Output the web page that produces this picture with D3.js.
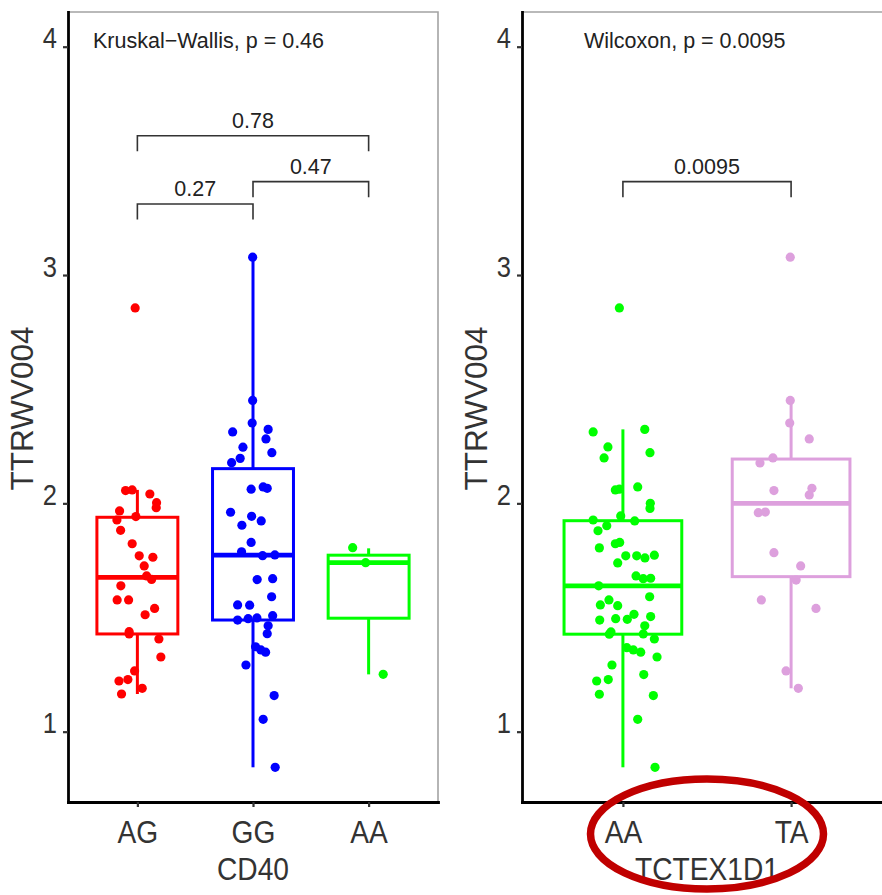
<!DOCTYPE html>
<html>
<head>
<meta charset="utf-8">
<script src="https://cdn.jsdelivr.net/npm/d3@7"></script>
<style>
  body { margin: 0; background: #fff; }
  svg { display: block; }
</style>
</head>
<body>
<div id="chart"></div>
<script>
// ---- data ----
// CD40 genotypes
const cd40Groups = ["AG", "GG", "AA"];
const cd40Colors = ["#FF0000", "#0000FF", "#00FF00"];
const agValues = [2.856, 2.056, 2.059, 2.041, 2.003, 1.981, 1.967, 1.927, 1.942, 1.882,
  1.823, 1.770, 1.764, 1.726, 1.682, 1.667, 1.639, 1.577, 1.577, 1.540,
  1.512, 1.438, 1.428, 1.406, 1.327, 1.266, 1.222, 1.228, 1.190, 1.165];
const agJitter = [-0.019, -0.102, -0.045, 0.108, 0.166, 0.163, -0.154, -0.177, -0.013, -0.145,
  -0.045, 0.016, 0.134, 0.059, 0.080, 0.123, -0.143, -0.175, -0.076, 0.149,
  0.067, -0.071, -0.071, 0.186, 0.203, -0.024, -0.159, -0.082, 0.042, -0.137];
const ggValues = [3.078, 2.451, 2.352, 2.313, 2.324, 2.282, 2.246, 2.222, 2.197, 2.178,
  2.062, 2.072, 2.066, 1.961, 1.943, 1.923, 1.904, 1.829, 1.788, 1.771,
  1.774, 1.666, 1.670, 1.591, 1.555, 1.554, 1.489, 1.495, 1.498, 1.508,
  1.464, 1.429, 1.372, 1.358, 1.348, 1.292, 1.158, 1.054, 0.844];
const ggJitter = [-0.003, -0.003, -0.007, -0.176, 0.131, 0.112, -0.087, 0.163, -0.111, -0.185,
  -0.016, 0.088, 0.123, -0.194, -0.012, 0.071, -0.096, -0.016, -0.099, 0.083,
  0.189, 0.036, 0.170, 0.161, -0.133, -0.029, -0.133, -0.042, 0.034, 0.170,
  0.131, 0.123, 0.022, 0.068, 0.109, -0.061, 0.183, 0.088, 0.192];
const aaCd40Values = [1.806, 1.740, 1.251];
const aaCd40Jitter = [-0.138, -0.026, 0.126];
// box stats: [lower whisker, Q1, median, Q3, upper whisker]
const cd40Boxes = [
  [1.165, 1.428, 1.676, 1.939, 2.059],
  [0.844, 1.489, 1.773, 2.152, 3.078],
  [1.251, 1.497, 1.740, 1.773, 1.803]
];
const cd40Tests = [["AG", "GG", 3.311, "0.27"], ["GG", "AA", 3.409, "0.47"], ["AG", "AA", 3.610, "0.78"]];

// TCTEX1D1 genotypes
const tctexGroups = ["AA", "TA"];
const tctexColors = ["#00FF00", "#DDA0DD"];
const aaValues = [2.856, 2.313, 2.324, 2.247, 2.222, 2.199, 2.059, 2.062, 2.072, 2.000,
  1.978, 1.945, 1.927, 1.923, 1.902, 1.880, 1.805, 1.823, 1.829, 1.770,
  1.770, 1.761, 1.773, 1.739, 1.682, 1.670, 1.672, 1.639, 1.591, 1.577,
  1.555, 1.552, 1.514, 1.492, 1.495, 1.489, 1.504, 1.464, 1.437, 1.427,
  1.428, 1.406, 1.368, 1.358, 1.348, 1.327, 1.292, 1.222, 1.228, 1.250,
  1.164, 1.158, 1.054, 0.844];
const aaJitter = [-0.021, -0.177, 0.130, -0.089, 0.161, -0.112, -0.045, -0.021, 0.088, 0.163,
  0.161, -0.013, -0.177, 0.070, -0.096, -0.148, -0.140, -0.045, -0.019, 0.017,
  0.082, 0.131, 0.187, -0.031, 0.078, 0.121, 0.165, -0.144, 0.159, -0.083,
  -0.134, -0.031, 0.066, 0.026, -0.043, -0.138, 0.165, 0.130, -0.071, -0.081,
  0.121, 0.187, 0.023, 0.062, 0.106, 0.203, -0.065, -0.156, -0.087, 0.124,
  -0.140, 0.181, 0.088, 0.191];
const taValues = [3.078, 2.451, 2.352, 2.282, 2.199, 2.177, 2.056, 2.066, 2.037, 1.959,
  1.962, 1.784, 1.726, 1.664, 1.577, 1.540, 1.266, 1.190];
const taJitter = [-0.005, -0.005, -0.008, 0.108, -0.108, -0.185, -0.102, 0.124, 0.108, -0.195,
  -0.153, -0.102, 0.057, 0.030, -0.177, 0.148, -0.030, 0.043];
const tctexBoxes = [
  [0.844, 1.427, 1.639, 1.924, 2.324],
  [1.190, 1.679, 2.000, 2.194, 2.451]
];
const tctexTests = [["AA", "TA", 3.409, "0.0095"]];

const yTicks = [1, 2, 3, 4];

// ---- layout ----
const width = 882, height = 895;
const panelW = 370, plotTop = 12, plotBottom = 802;
const textColor = "#333333";
const font = "'Liberation Sans', Arial, sans-serif";

const svg = d3.select("#chart").append("svg")
  .attr("width", width)
  .attr("height", height)
  .style("font-family", font);

const y = d3.scaleLinear().domain([0.692, 4.152]).range([plotBottom, plotTop]);

const panels = [
  {
    x0: 68, groups: cd40Groups, colors: cd40Colors, boxes: cd40Boxes,
    values: [agValues, ggValues, aaCd40Values], jitter: [agJitter, ggJitter, aaCd40Jitter],
    tests: cd40Tests, title: "CD40", stat: "Kruskal\u2212Wallis, p = 0.46", statDx: 25
  },
  {
    x0: 522, groups: tctexGroups, colors: tctexColors, boxes: tctexBoxes,
    values: [aaValues, taValues], jitter: [aaJitter, taJitter],
    tests: tctexTests, title: "TCTEX1D1", stat: "Wilcoxon, p = 0.0095", statDx: 62
  }
];

function drawPanel(p) {
  const x = d3.scalePoint().domain(p.groups).range([p.x0, p.x0 + panelW]).padding(0.6);
  const step = x.step();
  const g = svg.append("g");

  // top and right frame
  g.append("path")
    .attr("d", `M${p.x0},${plotTop}H${p.x0 + panelW}V${plotBottom}`)
    .attr("fill", "none")
    .attr("stroke", "#a3a3a3")
    .attr("stroke-width", 1.6);

  // boxplots
  p.groups.forEach((grp, i) => {
    const [lo, q1, md, q3, hi] = p.boxes[i];
    const cx = x(grp), hw = step * 0.35;
    const b = g.append("g").attr("stroke", p.colors[i]).attr("fill", "none");
    b.append("line").attr("x1", cx).attr("x2", cx).attr("y1", y(hi)).attr("y2", y(q3)).attr("stroke-width", 3);
    b.append("line").attr("x1", cx).attr("x2", cx).attr("y1", y(q1)).attr("y2", y(lo)).attr("stroke-width", 3);
    b.append("rect")
      .attr("x", cx - hw).attr("y", y(q3))
      .attr("width", hw * 2).attr("height", y(q1) - y(q3))
      .attr("fill", "white").attr("stroke-width", 3);
    b.append("line").attr("x1", cx - hw).attr("x2", cx + hw).attr("y1", y(md)).attr("y2", y(md)).attr("stroke-width", 4.8);
  });

  // jittered points
  p.groups.forEach((grp, i) => {
    g.append("g").attr("fill", p.colors[i])
      .selectAll("circle")
      .data(p.values[i].map((v, k) => ({ v, j: p.jitter[i][k] })))
      .join("circle")
      .attr("cx", d => x(grp) + d.j * step)
      .attr("cy", d => y(d.v))
      .attr("r", 4.6);
  });

  // comparison brackets
  const br = g.append("g");
  p.tests.forEach(([a, b, v, label]) => {
    const x1 = x(a), x2 = x(b), yy = y(v);
    br.append("path")
      .attr("d", `M${x1},${yy + 15.5}V${yy}H${x2}V${yy + 15.5}`)
      .attr("fill", "none")
      .attr("stroke", "#333")
      .attr("stroke-width", 1.6);
    br.append("text")
      .attr("x", (x1 + x2) / 2)
      .attr("y", yy - 8)
      .attr("text-anchor", "middle")
      .attr("font-size", 21.5)
      .attr("fill", "#222")
      .text(label);
  });

  // global test label
  g.append("text")
    .attr("x", p.x0 + p.statDx)
    .attr("y", y(4) + 1)
    .attr("font-size", 21.5)
    .attr("fill", "#222")
    .text(p.stat);

  // axes
  const yAxis = g.append("g")
    .attr("transform", `translate(${p.x0},0)`)
    .call(d3.axisLeft(y).tickValues(yTicks).tickSize(5).tickSizeOuter(0).tickFormat(d3.format("d")));
  const xAxis = g.append("g")
    .attr("transform", `translate(0,${plotBottom})`)
    .call(d3.axisBottom(x).tickSize(5).tickSizeOuter(0));

  [yAxis, xAxis].forEach(ax => {
    ax.select(".domain").attr("stroke", "#000").attr("stroke-width", 2.8).attr("stroke-linecap", "square");
    ax.selectAll(".tick line").attr("stroke", "#333").attr("stroke-width", 2.2);
    ax.selectAll(".tick text").attr("fill", textColor).attr("font-family", font);
  });
  yAxis.selectAll(".tick text")
    .attr("font-size", 29)
    .attr("x", -12.5)
    .attr("dy", 1)
    .attr("transform", "scale(0.88,1)");
  xAxis.selectAll(".tick text")
    .attr("font-size", 32)
    .attr("y", 40.7)
    .attr("dy", 0)
    .attr("transform", "scale(0.88,1)");

  // axis titles
  g.append("text")
    .attr("transform", `translate(${p.x0 - 34.7},408.4) rotate(-90)`)
    .attr("text-anchor", "middle")
    .attr("font-size", 31.5)
    .attr("fill", textColor)
    .text("TTRWV004");
  g.append("text")
    .attr("transform", `translate(${p.x0 + panelW / 2},880) scale(0.88,1)`)
    .attr("text-anchor", "middle")
    .attr("font-size", 32)
    .attr("fill", textColor)
    .text(p.title);
}

panels.forEach(drawPanel);

// red highlight ring around the TCTEX1D1 axis labels
const ringPanel = panels[1];
svg.append("ellipse")
  .attr("cx", ringPanel.x0 + panelW / 2)
  .attr("cy", 834)
  .attr("rx", 116.5)
  .attr("ry", 55)
  .attr("fill", "none")
  .attr("stroke", "#C00000")
  .attr("stroke-width", 7.5);
</script>
</body>
</html>
